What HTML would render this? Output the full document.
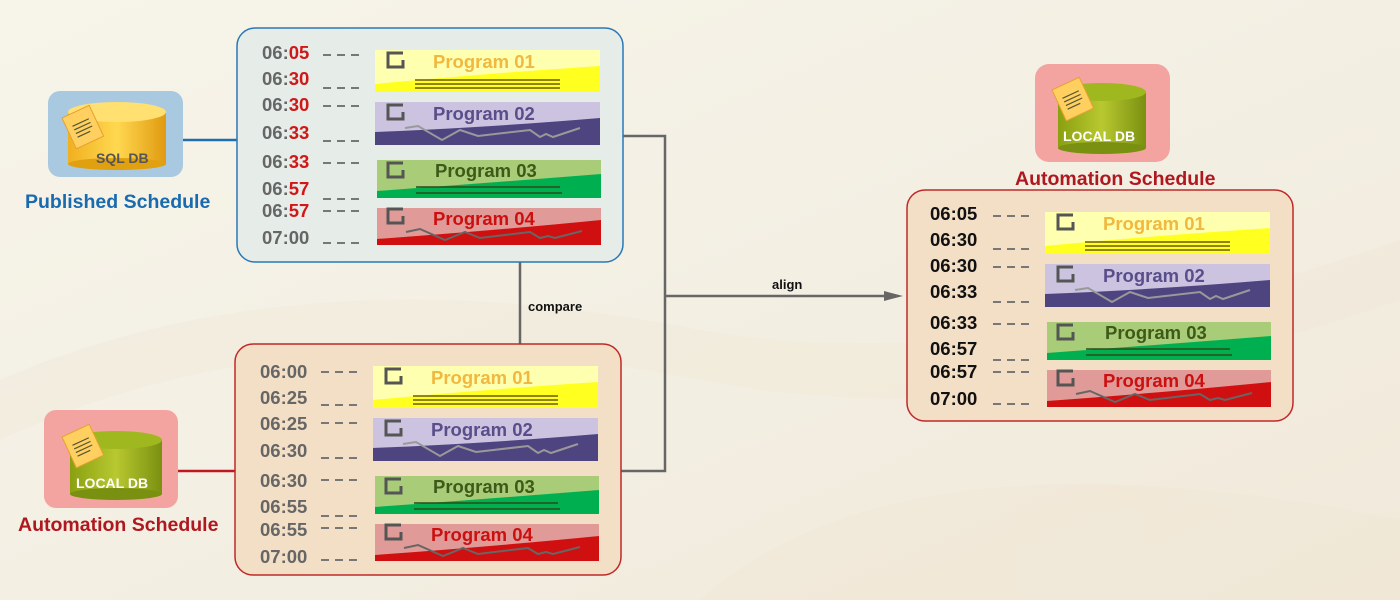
<!DOCTYPE html>
<html><head><meta charset="utf-8"><style>
html,body{margin:0;padding:0;width:1400px;height:600px;overflow:hidden;background:#f5f2e8}
svg{display:block}
text{font-family:"Liberation Sans",Arial,sans-serif;font-weight:bold}
.t{font-size:18.5px;fill:#666}
.tb{font-size:18.5px;fill:#111}
.r{fill:#d01818}
.d{stroke:#777;stroke-width:2;stroke-dasharray:8,6}
.p{font-size:18.5px}
</style></head><body>
<svg width="1400" height="600" viewBox="0 0 1400 600" xmlns="http://www.w3.org/2000/svg">
<defs>
<linearGradient id="bg" x1="0" y1="0" x2="1" y2="1">
<stop offset="0" stop-color="#f7f4ea"/><stop offset="0.5" stop-color="#f3efe3"/><stop offset="1" stop-color="#f1e9da"/>
</linearGradient>
<linearGradient id="gold" x1="0" x2="1"><stop offset="0" stop-color="#f0b020"/><stop offset="0.5" stop-color="#ffd850"/><stop offset="1" stop-color="#e09a10"/></linearGradient>
<linearGradient id="olive" x1="0" x2="1"><stop offset="0" stop-color="#8aa010"/><stop offset="0.5" stop-color="#b8c830"/><stop offset="1" stop-color="#7a9010"/></linearGradient>
<g id="note"><rect x="0" y="0" width="30" height="34" fill="#ffd060" stroke="#e8a030" transform="rotate(-25)"/><g stroke="#553" stroke-width="1.2" transform="rotate(-25)"><line x1="6" y1="12" x2="24" y2="12"/><line x1="6" y1="16" x2="24" y2="16"/><line x1="6" y1="20" x2="24" y2="20"/><line x1="6" y1="24" x2="20" y2="24"/></g></g>
<path id="gi" d="M403,53 L388,53 L388,67 L403,67 L403,60" fill="none" stroke="#555" stroke-width="3"/>
</defs>
<rect width="1400" height="600" fill="url(#bg)"/>
<path d="M700,600 Q900,420 1400,520 L1400,600Z" fill="#efe6d4" opacity="0.5"/>
<path d="M0,380 Q300,250 700,330 Q1000,380 1400,240 L1400,300 Q1000,440 700,380 Q300,300 0,440Z" fill="#f0e8d8" opacity="0.4"/>

<!-- connectors -->
<line x1="172" y1="140" x2="237" y2="140" stroke="#1f6fb0" stroke-width="2.5"/>
<line x1="172" y1="471" x2="235" y2="471" stroke="#c01820" stroke-width="2.5"/>
<line x1="520" y1="262" x2="520" y2="344" stroke="#666" stroke-width="2.5"/>
<text x="528" y="311" font-size="13" fill="#111">compare</text>
<polyline points="623,136 665,136 665,471 620,471" fill="none" stroke="#666" stroke-width="2.5"/>
<line x1="665" y1="296" x2="886" y2="296" stroke="#666" stroke-width="2.5"/>
<polygon points="884,291 903,296 884,301" fill="#666"/>
<text x="772" y="289" font-size="13" fill="#111">align</text>

<!-- SQL DB -->
<rect x="48" y="91" width="135" height="86" rx="12" fill="#a9c9e0"/>
<rect x="68" y="112" width="98" height="52" fill="url(#gold)"/>
<ellipse cx="117" cy="164" rx="49" ry="6" fill="#e0a010"/>
<ellipse cx="117" cy="112" rx="49" ry="10" fill="#ffe070"/>
<use href="#note" transform="translate(62,118)"/>
<text x="96" y="163" font-size="14" fill="#555">SQL DB</text>
<text x="25" y="208" font-size="19.5" fill="#1a6ab0">Published Schedule</text>

<!-- Local DB left -->
<rect x="44" y="410" width="134" height="98" rx="12" fill="#f4a4a0"/>
<rect x="70" y="440" width="92" height="54" fill="url(#olive)"/>
<ellipse cx="116" cy="494" rx="46" ry="6" fill="#7a9010"/>
<ellipse cx="116" cy="440" rx="46" ry="9" fill="#a0b820"/>
<use href="#note" transform="translate(62,437)"/>
<text x="76" y="488" font-size="14" fill="#fff">LOCAL DB</text>
<text x="18" y="531" font-size="19.5" fill="#b01820">Automation Schedule</text>

<!-- Local DB right -->
<rect x="1035" y="64" width="135" height="98" rx="14" fill="#f4a4a0"/>
<rect x="1058" y="92" width="88" height="56" fill="url(#olive)"/>
<ellipse cx="1102" cy="148" rx="44" ry="6" fill="#7a9010"/>
<ellipse cx="1102" cy="92" rx="44" ry="9" fill="#a0b820"/>
<use href="#note" transform="translate(1052,90)"/>
<text x="1063" y="141" font-size="14" fill="#fff">LOCAL DB</text>
<text x="1015" y="185" font-size="19.5" fill="#b01820">Automation Schedule</text>

<!-- Top panel -->
<rect x="237" y="28" width="386" height="234" rx="18" fill="#e6ede9" stroke="#2a78b8" stroke-width="1.5"/>
<g>
<text class="t" x="262" y="59">06:<tspan class="r">05</tspan></text>
<text class="t" x="262" y="85">06:<tspan class="r">30</tspan></text>
<text class="t" x="262" y="111">06:<tspan class="r">30</tspan></text>
<text class="t" x="262" y="139">06:<tspan class="r">33</tspan></text>
<text class="t" x="262" y="168">06:<tspan class="r">33</tspan></text>
<text class="t" x="262" y="195">06:<tspan class="r">57</tspan></text>
<text class="t" x="262" y="217">06:<tspan class="r">57</tspan></text>
<text class="t" x="262" y="244">07:00</text>
</g>
<g id="dash1">
<line class="d" x1="323" y1="55" x2="360" y2="55"/><line class="d" x1="323" y1="88" x2="360" y2="88"/>
<line class="d" x1="323" y1="106" x2="360" y2="106"/><line class="d" x1="323" y1="141" x2="360" y2="141"/>
<line class="d" x1="323" y1="163" x2="360" y2="163"/><line class="d" x1="323" y1="199" x2="360" y2="199"/>
<line class="d" x1="323" y1="211" x2="360" y2="211"/><line class="d" x1="323" y1="243" x2="360" y2="243"/>
</g>
<g id="cards1">
<rect x="375" y="50" width="225" height="42" fill="#ffffb0"/>
<path d="M375,92 L375,84 Q480,74 600,66 L600,92Z" fill="#ffff20"/>
<g stroke="#6b5a10" stroke-width="1.5"><line x1="415" y1="80" x2="560" y2="80"/><line x1="415" y1="84" x2="560" y2="84"/><line x1="415" y1="88" x2="560" y2="88"/></g>
<use href="#gi"/>
<text class="p" x="433" y="68" fill="#f0b840">Program 01</text>
<rect x="375" y="102" width="225" height="43" fill="#cbc3e0"/>
<path d="M375,145 L375,132 Q480,128 600,118 L600,145Z" fill="#4e4480"/>
<polyline points="405,128 418,126 442,140 460,130 478,136 530,130 540,137 546,134 553,137 580,128" fill="none" stroke="#999" stroke-width="2"/>
<use href="#gi" y="52"/>
<text class="p" x="433" y="120" fill="#5a4e8a">Program 02</text>
<rect x="377" y="160" width="224" height="38" fill="#a8cc78"/>
<path d="M377,198 L377,191 Q500,182 601,174 L601,198Z" fill="#00b050"/>
<g stroke="#2a4a18" stroke-width="1.5"><line x1="416" y1="187" x2="560" y2="187"/><line x1="416" y1="193" x2="562" y2="193"/></g>
<use href="#gi" y="110"/>
<text class="p" x="435" y="177" fill="#3e5a18">Program 03</text>
<rect x="377" y="208" width="224" height="37" fill="#e09a98"/>
<path d="M377,245 L377,239 Q500,230 601,220 L601,245Z" fill="#d01010"/>
<polyline points="406,232 420,229 445,240 465,232 480,238 530,232 540,238 548,236 555,238 582,231" fill="none" stroke="#666" stroke-width="2"/>
<use href="#gi" y="156"/>
<text class="p" x="433" y="225" fill="#cc1010">Program 04</text>
</g>

<!-- Bottom panel -->
<rect x="235" y="344" width="386" height="231" rx="18" fill="#f3dfc6" stroke="#c02828" stroke-width="1.5"/>
<g>
<text class="t" x="260" y="378">06:00</text>
<text class="t" x="260" y="404">06:25</text>
<text class="t" x="260" y="430">06:25</text>
<text class="t" x="260" y="457">06:30</text>
<text class="t" x="260" y="487">06:30</text>
<text class="t" x="260" y="513">06:55</text>
<text class="t" x="260" y="536">06:55</text>
<text class="t" x="260" y="563">07:00</text>
</g>
<use href="#dash1" transform="translate(-2,317)"/>
<g transform="translate(-2,316)">
<rect x="375" y="50" width="225" height="42" fill="#ffffb0"/>
<path d="M375,92 L375,84 Q480,74 600,66 L600,92Z" fill="#ffff20"/>
<g stroke="#6b5a10" stroke-width="1.5"><line x1="415" y1="80" x2="560" y2="80"/><line x1="415" y1="84" x2="560" y2="84"/><line x1="415" y1="88" x2="560" y2="88"/></g>
<use href="#gi"/>
<text class="p" x="433" y="68" fill="#f0b840">Program 01</text>
<rect x="375" y="102" width="225" height="43" fill="#cbc3e0"/>
<path d="M375,145 L375,132 Q480,128 600,118 L600,145Z" fill="#4e4480"/>
<polyline points="405,128 418,126 442,140 460,130 478,136 530,130 540,137 546,134 553,137 580,128" fill="none" stroke="#999" stroke-width="2"/>
<use href="#gi" y="52"/>
<text class="p" x="433" y="120" fill="#5a4e8a">Program 02</text>
<rect x="377" y="160" width="224" height="38" fill="#a8cc78"/>
<path d="M377,198 L377,191 Q500,182 601,174 L601,198Z" fill="#00b050"/>
<g stroke="#2a4a18" stroke-width="1.5"><line x1="416" y1="187" x2="560" y2="187"/><line x1="416" y1="193" x2="562" y2="193"/></g>
<use href="#gi" y="110"/>
<text class="p" x="435" y="177" fill="#3e5a18">Program 03</text>
<rect x="377" y="208" width="224" height="37" fill="#e09a98"/>
<path d="M377,245 L377,239 Q500,230 601,220 L601,245Z" fill="#d01010"/>
<polyline points="406,232 420,229 445,240 465,232 480,238 530,232 540,238 548,236 555,238 582,231" fill="none" stroke="#666" stroke-width="2"/>
<use href="#gi" y="156"/>
<text class="p" x="433" y="225" fill="#cc1010">Program 04</text>
</g>

<!-- Right panel -->
<rect x="907" y="190" width="386" height="231" rx="18" fill="#f3dfc6" stroke="#c02828" stroke-width="1.5"/>
<g>
<text class="tb" x="930" y="220">06:05</text>
<text class="tb" x="930" y="246">06:30</text>
<text class="tb" x="930" y="272">06:30</text>
<text class="tb" x="930" y="298">06:33</text>
<text class="tb" x="930" y="329">06:33</text>
<text class="tb" x="930" y="355">06:57</text>
<text class="tb" x="930" y="378">06:57</text>
<text class="tb" x="930" y="405">07:00</text>
</g>
<use href="#dash1" transform="translate(670,161)"/>
<g transform="translate(670,162)">
<rect x="375" y="50" width="225" height="42" fill="#ffffb0"/>
<path d="M375,92 L375,84 Q480,74 600,66 L600,92Z" fill="#ffff20"/>
<g stroke="#6b5a10" stroke-width="1.5"><line x1="415" y1="80" x2="560" y2="80"/><line x1="415" y1="84" x2="560" y2="84"/><line x1="415" y1="88" x2="560" y2="88"/></g>
<use href="#gi"/>
<text class="p" x="433" y="68" fill="#f0b840">Program 01</text>
<rect x="375" y="102" width="225" height="43" fill="#cbc3e0"/>
<path d="M375,145 L375,132 Q480,128 600,118 L600,145Z" fill="#4e4480"/>
<polyline points="405,128 418,126 442,140 460,130 478,136 530,130 540,137 546,134 553,137 580,128" fill="none" stroke="#999" stroke-width="2"/>
<use href="#gi" y="52"/>
<text class="p" x="433" y="120" fill="#5a4e8a">Program 02</text>
<rect x="377" y="160" width="224" height="38" fill="#a8cc78"/>
<path d="M377,198 L377,191 Q500,182 601,174 L601,198Z" fill="#00b050"/>
<g stroke="#2a4a18" stroke-width="1.5"><line x1="416" y1="187" x2="560" y2="187"/><line x1="416" y1="193" x2="562" y2="193"/></g>
<use href="#gi" y="110"/>
<text class="p" x="435" y="177" fill="#3e5a18">Program 03</text>
<rect x="377" y="208" width="224" height="37" fill="#e09a98"/>
<path d="M377,245 L377,239 Q500,230 601,220 L601,245Z" fill="#d01010"/>
<polyline points="406,232 420,229 445,240 465,232 480,238 530,232 540,238 548,236 555,238 582,231" fill="none" stroke="#666" stroke-width="2"/>
<use href="#gi" y="156"/>
<text class="p" x="433" y="225" fill="#cc1010">Program 04</text>
</g>
</svg>
</body></html>
